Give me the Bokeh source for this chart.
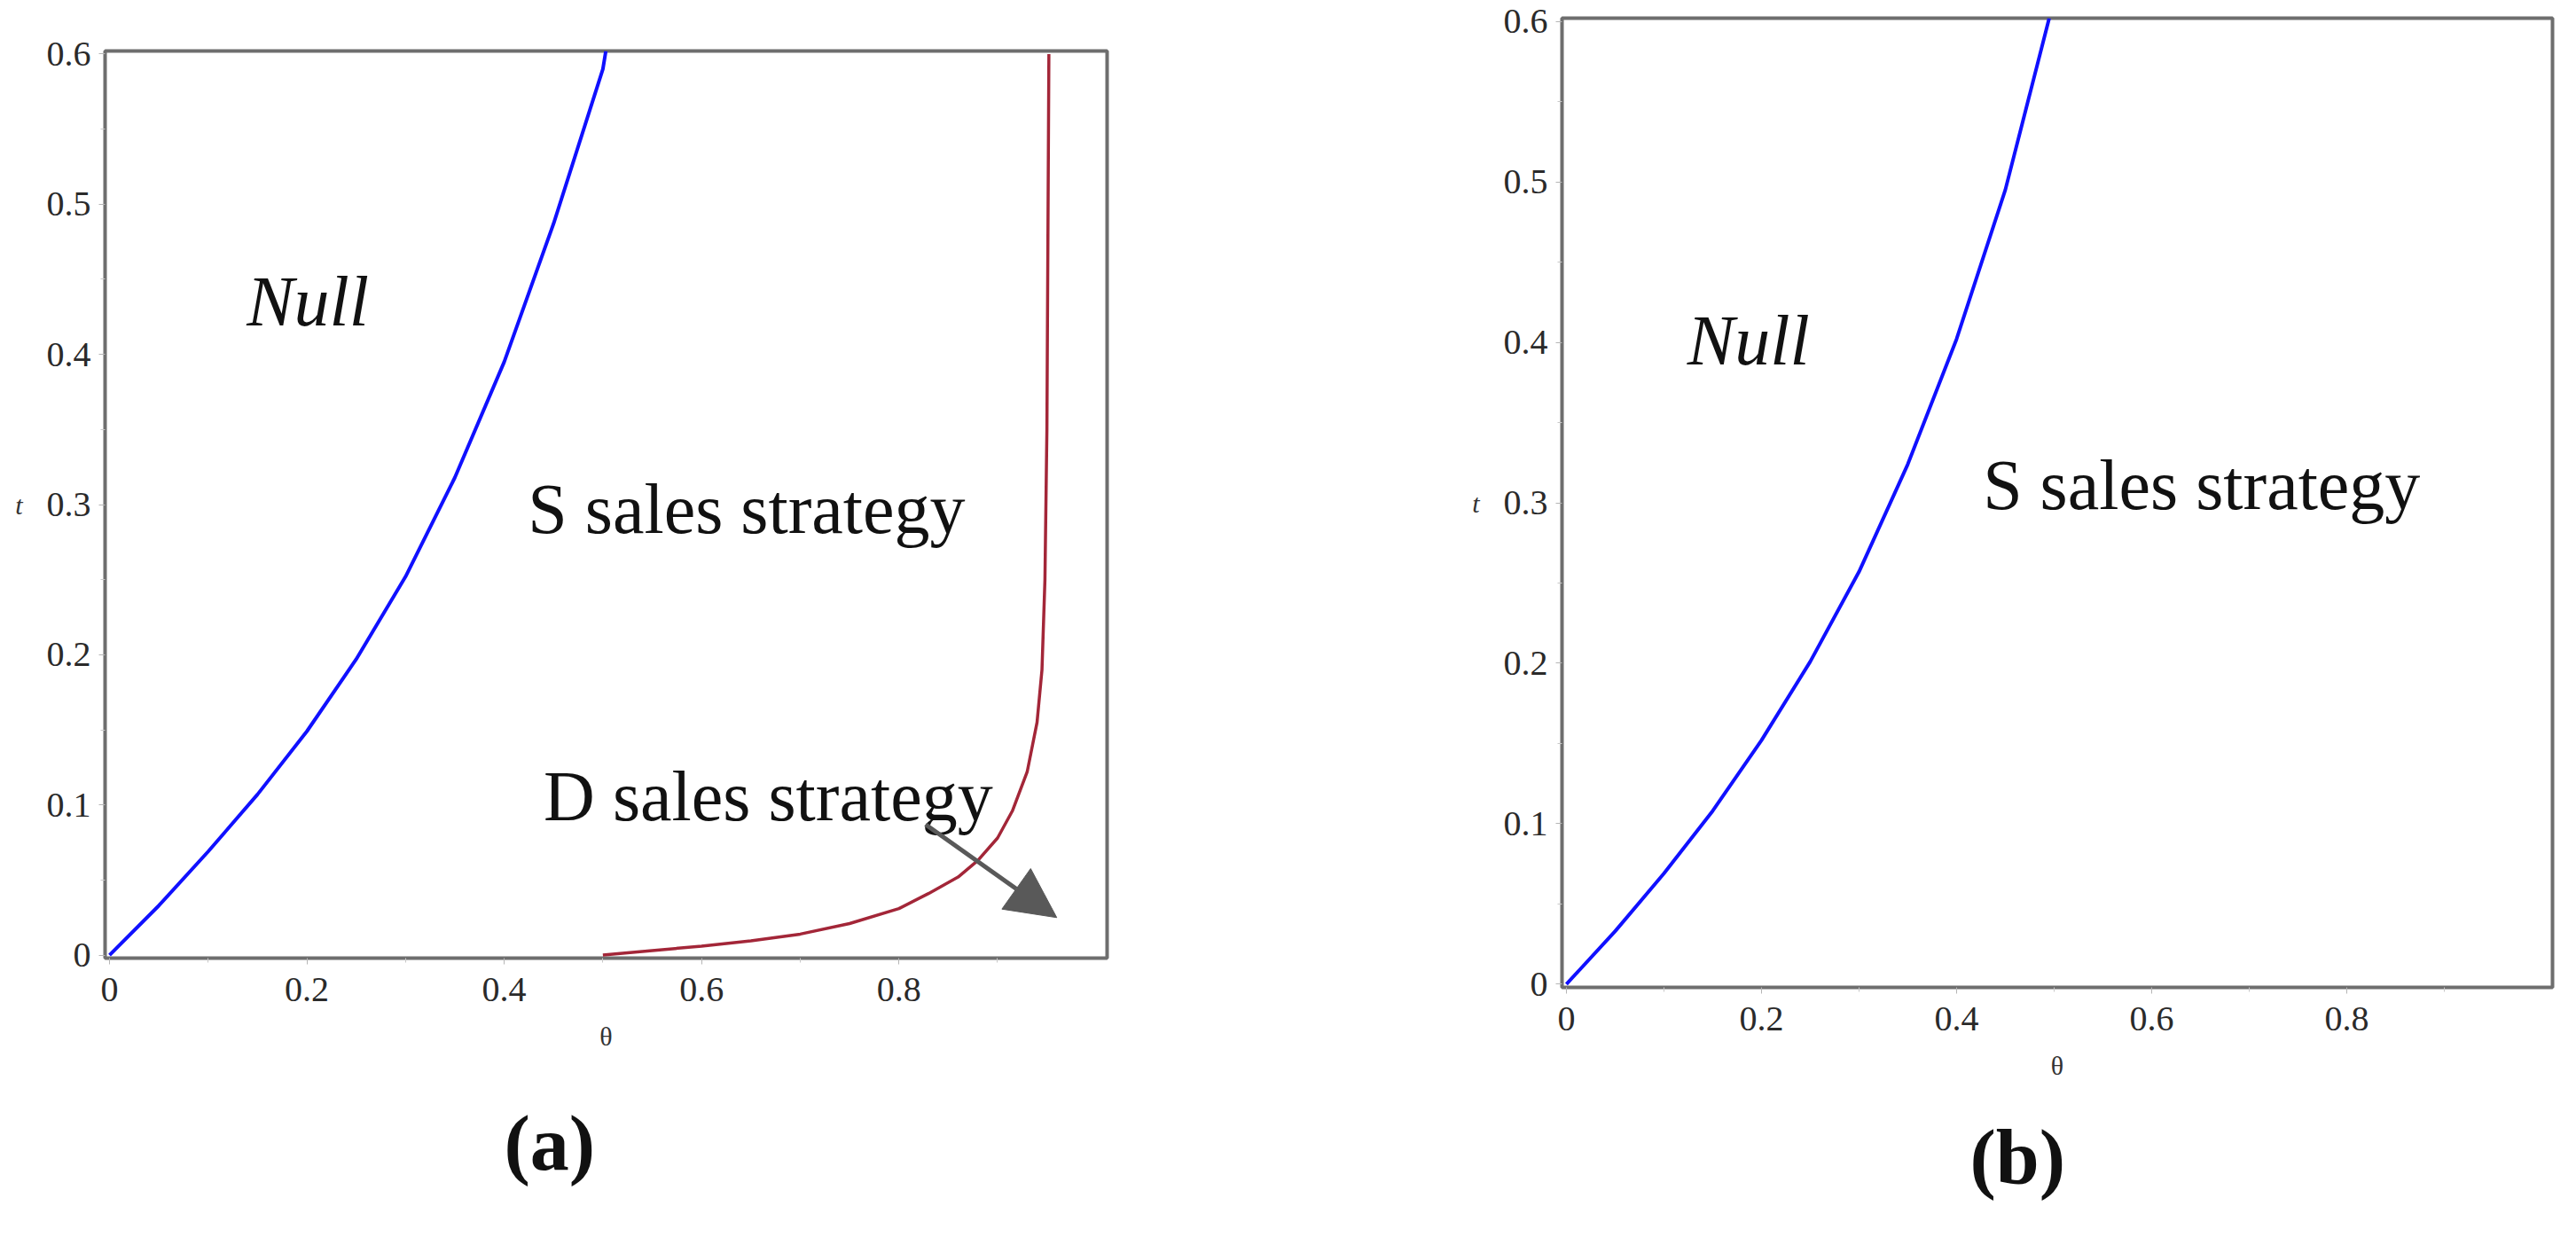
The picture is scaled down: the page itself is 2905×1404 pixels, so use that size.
from bokeh.plotting import figure
from bokeh.layouts import row
from bokeh.models import Range1d, FixedTicker, Arrow, NormalHead, Title
from bokeh.core.properties import value
from bokeh.embed import file_html
from bokeh.resources import INLINE

# ---------------- data ----------------
x_ticks = [0, 0.2, 0.4, 0.6, 0.8]
x_minor = [0.1, 0.3, 0.5, 0.7, 0.9]
y_ticks = [0, 0.1, 0.2, 0.3, 0.4, 0.5, 0.6]
y_minor = [0.05, 0.15, 0.25, 0.35, 0.45, 0.55]
x_tick_labels = {0: "0", 0.2: "0.2", 0.4: "0.4", 0.6: "0.6", 0.8: "0.8"}
y_tick_labels = {0: "0", 0.1: "0.1", 0.2: "0.2", 0.3: "0.3", 0.4: "0.4", 0.5: "0.5", 0.6: "0.6"}

# panel (a): blue boundary (Null / S)
theta_blue_a = [0, 0.05, 0.1, 0.15, 0.2, 0.25, 0.3, 0.35, 0.4, 0.45, 0.5, 0.503]
t_blue_a = [0, 0.033, 0.069, 0.107, 0.149, 0.197, 0.252, 0.318, 0.395, 0.487, 0.59, 0.602]
# panel (a): red boundary (S / D)
theta_red_a = [0.5, 0.55, 0.6, 0.65, 0.7, 0.75, 0.8, 0.83, 0.86, 0.88, 0.9, 0.915,
               0.93, 0.94, 0.945, 0.948, 0.95, 0.952]
t_red_a = [0, 0.003, 0.006, 0.0095, 0.014, 0.021, 0.031, 0.041, 0.052, 0.063, 0.078, 0.096,
           0.122, 0.155, 0.19, 0.25, 0.35, 0.6]
# panel (b): blue boundary
theta_blue_b = [0, 0.05, 0.1, 0.15, 0.2, 0.25, 0.3, 0.35, 0.4, 0.45, 0.495]
t_blue_b = [0, 0.033, 0.069, 0.108, 0.152, 0.201, 0.257, 0.324, 0.402, 0.495, 0.602]

# region labels
labels_a = ["Null", "S sales strategy", "D sales strategy"]
labels_a_x = [0.139, 0.424, 0.44]
labels_a_y = [0.435, 0.297, 0.106]
labels_a_style = ["italic", "normal", "normal"]
labels_b = ["Null", "S sales strategy"]
labels_b_x = [0.124, 0.427]
labels_b_y = [0.401, 0.311]
labels_b_style = ["italic", "normal"]

# arrow pointing at the D region in (a)
arrow_start = (0.827, 0.087)
arrow_end = (0.96, 0.025)

X_RANGE = (-0.0045, 1.011)
Y_RANGE = (-0.002, 0.602)

SERIF = "Liberation Serif"
BLUE = "#1010ff"
RED = "#a32638"
FRAME = "#6e6e6e"


def make_panel(width, height, bl, br, bt, bb, caption, cap_offset, cap_standoff):
    p = figure(width=width, height=height, output_backend="svg", toolbar_location=None,
               x_range=Range1d(*X_RANGE), y_range=Range1d(*Y_RANGE),
               min_border_left=bl, min_border_right=br, min_border_top=bt, min_border_bottom=bb,
               tools="")
    if "frame_align" in p.properties():
        p.frame_align = False
    p.grid.visible = False
    p.background_fill_color = "white"
    p.border_fill_color = "white"
    p.outline_line_color = FRAME
    p.outline_line_width = 4
    for ax, tk, mn, lab in ((p.xaxis[0], x_ticks, x_minor, x_tick_labels),
                            (p.yaxis[0], y_ticks, y_minor, y_tick_labels)):
        ax.ticker = FixedTicker(ticks=tk, minor_ticks=mn)
        ax.major_label_overrides = lab
        ax.axis_line_color = None
        ax.major_tick_line_color = "#b5b5b5"
        ax.minor_tick_line_color = "#c8c8c8"
        ax.major_tick_in = 0
        ax.major_tick_out = 7
        ax.minor_tick_in = 0
        ax.minor_tick_out = 5
        ax.major_label_text_font = SERIF
        ax.major_label_text_font_size = "40px"
        ax.major_label_text_color = "#2a2a2a"
        ax.axis_label_text_font = SERIF
        ax.axis_label_text_color = "#333333"
    p.xaxis.major_label_standoff = 15
    p.yaxis.major_label_standoff = 9
    p.xaxis.axis_label = "θ"
    p.xaxis.axis_label_text_font_size = "30px"
    p.xaxis.axis_label_text_font_style = "normal"
    p.xaxis.axis_label_standoff = 20
    p.yaxis.axis_label = "t"
    p.yaxis.axis_label_text_font_size = "30px"
    p.yaxis.axis_label_text_font_style = "italic"
    p.yaxis.axis_label_standoff = 24
    p.yaxis.axis_label_orientation = "horizontal"
    cap = Title(text=caption, align="left", offset=cap_offset, standoff=cap_standoff,
                text_font=SERIF, text_font_size="88px", text_font_style="bold",
                text_color="#111111")
    p.add_layout(cap, "below")
    return p


pa = make_panel(1632, 1388, 118, 384, 57, 308, "(a)", 450, 102)
pa.line(theta_blue_a, t_blue_a, line_color=BLUE, line_width=4)
pa.line(theta_red_a, t_red_a, line_color=RED, line_width=3.5)
pa.text(x=labels_a_x, y=labels_a_y, text=labels_a, text_font=value(SERIF),
        text_font_size=value("80px"), text_font_style=labels_a_style,
        text_baseline="alphabetic", text_align="left", text_color="#111111")
pa.add_layout(Arrow(end=NormalHead(size=56, fill_color="#595959", line_color="#595959"),
                    x_start=arrow_start[0], y_start=arrow_start[1],
                    x_end=arrow_end[0], y_end=arrow_end[1],
                    line_color="#595959", line_width=5))

pb = make_panel(1257, 1388, 129, 11, 20, 275, "(b)", 460, 69)
pb.line(theta_blue_b, t_blue_b, line_color=BLUE, line_width=4)
pb.text(x=labels_b_x, y=labels_b_y, text=labels_b, text_font=value(SERIF),
        text_font_size=value("80px"), text_font_style=labels_b_style,
        text_baseline="alphabetic", text_align="left", text_color="#111111")

layout = row(pa, pb, spacing=0)
open("out.html", "w").write(file_html(layout, INLINE))
